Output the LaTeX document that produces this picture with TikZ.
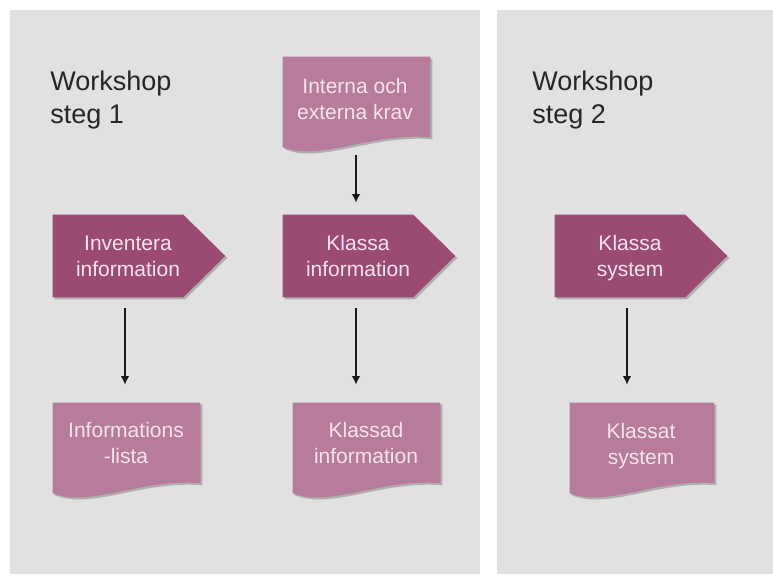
\documentclass[tikz,border=0pt]{standalone}
\usepackage{fontspec}
\setmainfont{Liberation Sans}
\usetikzlibrary{calc,shadows,arrows.meta}
\definecolor{panelgray}{HTML}{E1E1E1}
\definecolor{stepfill}{HTML}{9B4A74}
\definecolor{docfill}{HTML}{B77B9B}
\definecolor{boxtxt}{HTML}{F8E4EF}
\tikzset{
  panel/.style={fill=panelgray, draw=none},
  shapebox/.style={draw=none, inner sep=0pt, minimum width=#1},
  pentbox/.style={shapebox=129pt, minimum height=61.5pt},
  docbox/.style={shapebox=110.25pt, minimum height=67.5pt},
  stepshape/.style={fill=stepfill, drop shadow={shadow xshift=1.5pt, shadow yshift=-1.5pt, fill=black, opacity=0.22}},
  docshape/.style={fill=docfill, drop shadow={shadow xshift=1.5pt, shadow yshift=-1.5pt, fill=black, opacity=0.22}},
  boxtext/.style={text=boxtxt, align=center, inner sep=0pt, font=\fontsize{15.75}{19.5}\selectfont},
  heading/.style={text=black!85, align=left, inner sep=0pt, anchor=north west, font=\fontsize{20.25}{24.75}\selectfont},
  arr/.style={-{Latex[length=6.5pt,width=6.5pt]}, line width=1.35pt, black!90}
}
\begin{document}
\begin{tikzpicture}[x=0.75pt,y=-0.75pt]
\useasboundingbox (0,0) rectangle (773,574);
\fill[white] (0,0) rectangle (773,574);
% panels
\path[panel] (10,10) rectangle (480,574);
\path[panel] (497,10) rectangle (773,574);
% headings
\node[heading] (h1) at (50,71) {Workshop\\steg 1};
\node[heading] (h2) at (532,71) {Workshop\\steg 2};
% pentagon step shapes
\node[pentbox] (inv) at (139,256) {};
\node[pentbox] (kinf) at (369,256) {};
\node[pentbox] (ksys) at (641,256) {};
\foreach \n in {inv,kinf,ksys}{
  \path[stepshape] (\n.north west) -- ($(\n.north east)+(-42,0)$) -- (\n.east)
    -- ($(\n.south east)+(-42,0)$) -- (\n.south west) -- cycle;
}
% document shapes
\node[docbox] (intk) at (356.5,102) {};
\node[docbox] (lista) at (126.5,448) {};
\node[docbox] (kad) at (366.5,448) {};
\node[docbox, minimum width=108pt] (kat) at (642,448) {};
\foreach \n in {intk,lista,kad,kat}{
  \path[docshape] (\n.north west) -- (\n.north east) -- ($(\n.south east)+(0,-10)$)
    .. controls ($(\n.south west)+(87,-15)$) and ($(\n.south west)+(37,15)$) .. (\n.south west) -- cycle;
}
% texts
\node[boxtext] (invt) at (128,256) {Inventera\\information};
\node[boxtext] (kinft) at (358,256) {Klassa\\information};
\node[boxtext] (ksyst) at (630,258.5) {Klassa\\system};
\node[boxtext] (intkt) at (355,99) {Interna och\\externa krav};
\node[boxtext] (listat) at (126,443) {Informations\\-lista};
\node[boxtext] (kadt) at (366,443) {Klassad\\information};
\node[boxtext] (katt) at (641,446.5) {Klassat\\system};
% connectors
\draw[arr] ($(intkt.center |- intk.south)+(1,8)$) -- ($(intkt.center |- kinf.north)+(1,-12)$);
\draw[arr] ($(invt.center |- inv.south)+(-3,11)$) -- ($(invt.center |- lista.north)+(-3,-18)$);
\draw[arr] ($(kinft.center |- kinf.south)+(-2,11)$) -- ($(kinft.center |- kad.north)+(-2,-18)$);
\draw[arr] ($(ksyst.center |- ksys.south)+(-3,11)$) -- ($(ksyst.center |- kat.north)+(-3,-18)$);
\end{tikzpicture}
\end{document}
